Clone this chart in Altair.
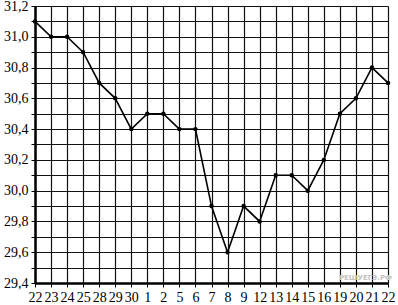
import altair as alt
import pandas as pd

day_labels = ["22", "23", "24", "25", "28", "29", "30", "1", "2", "5", "6", "7",
              "8", "9", "12", "13", "14", "15", "16", "19", "20", "21", "22"]
values = [31.1, 31.0, 31.0, 30.9, 30.7, 30.6, 30.4, 30.5, 30.5, 30.4, 30.4, 29.9,
          29.6, 29.9, 29.8, 30.1, 30.1, 30.0, 30.2, 30.5, 30.6, 30.8, 30.7]

df = pd.DataFrame({"idx": list(range(len(day_labels))), "label": day_labels, "value": values})

label_map = "{" + ",".join(f"'{i}':'{l}'" for i, l in enumerate(day_labels)) + "}"
y_ticks = [round(29.4 + 0.1 * i, 1) for i in range(19)]

x = alt.X("idx:Q", scale=alt.Scale(domain=[0, len(day_labels) - 1], nice=False, zero=False),
          axis=alt.Axis(values=list(range(len(day_labels))), tickCount=100, title=None,
                        labelExpr=f"{label_map}[toString(datum.value)]",
                        grid=True, gridColor="#111", gridWidth=1.2, gridOpacity=1,
                        domainColor="#000", domainWidth=2.5, tickColor="#000", tickSize=4,
                        labelFont="Liberation Serif", labelFontSize=14, labelColor="#000",
                        labelPadding=3, labelFlush=False, labelOverlap=False))
y = alt.Y("value:Q", scale=alt.Scale(domain=[29.4, 31.2], nice=False, zero=False),
          axis=alt.Axis(values=y_ticks, tickCount=100, title=None,
                        labelExpr="round(datum.value*10) % 2 == 0 ? replace(format(datum.value, '.1f'), '.', ',') : ''",
                        grid=True, gridColor="#111", gridWidth=1.2, gridOpacity=1,
                        domainColor="#000", domainWidth=2.5, tickColor="#000", tickSize=4,
                        labelFont="Liberation Serif", labelFontSize=14, labelColor="#000",
                        labelPadding=3, labelFlush=False, labelOverlap=False))

base = alt.Chart(df)
line = base.mark_line(color="#000", strokeWidth=1.6).encode(x=x, y=y)
pts = base.mark_circle(color="#000", size=20, opacity=1).encode(x="idx:Q", y="value:Q")
wm = alt.Chart(pd.DataFrame({"t": ["РЕШУЕГЭ.РФ"]})).mark_text(
    align="right", baseline="middle", font="DejaVu Sans", fontSize=7, color="#c4c4c4", fontWeight="bold"
).encode(text="t:N", x=alt.value(357), y=alt.value(272))

chart = (line + pts + wm).properties(
    width=353, height=277,
    autosize=alt.AutoSizeParams(type="none"),
    padding={"left": 35, "top": 6, "right": 10, "bottom": 22},
).configure_view(stroke=None)

chart.save("out.html", embed_options={"renderer": "svg", "actions": False})
